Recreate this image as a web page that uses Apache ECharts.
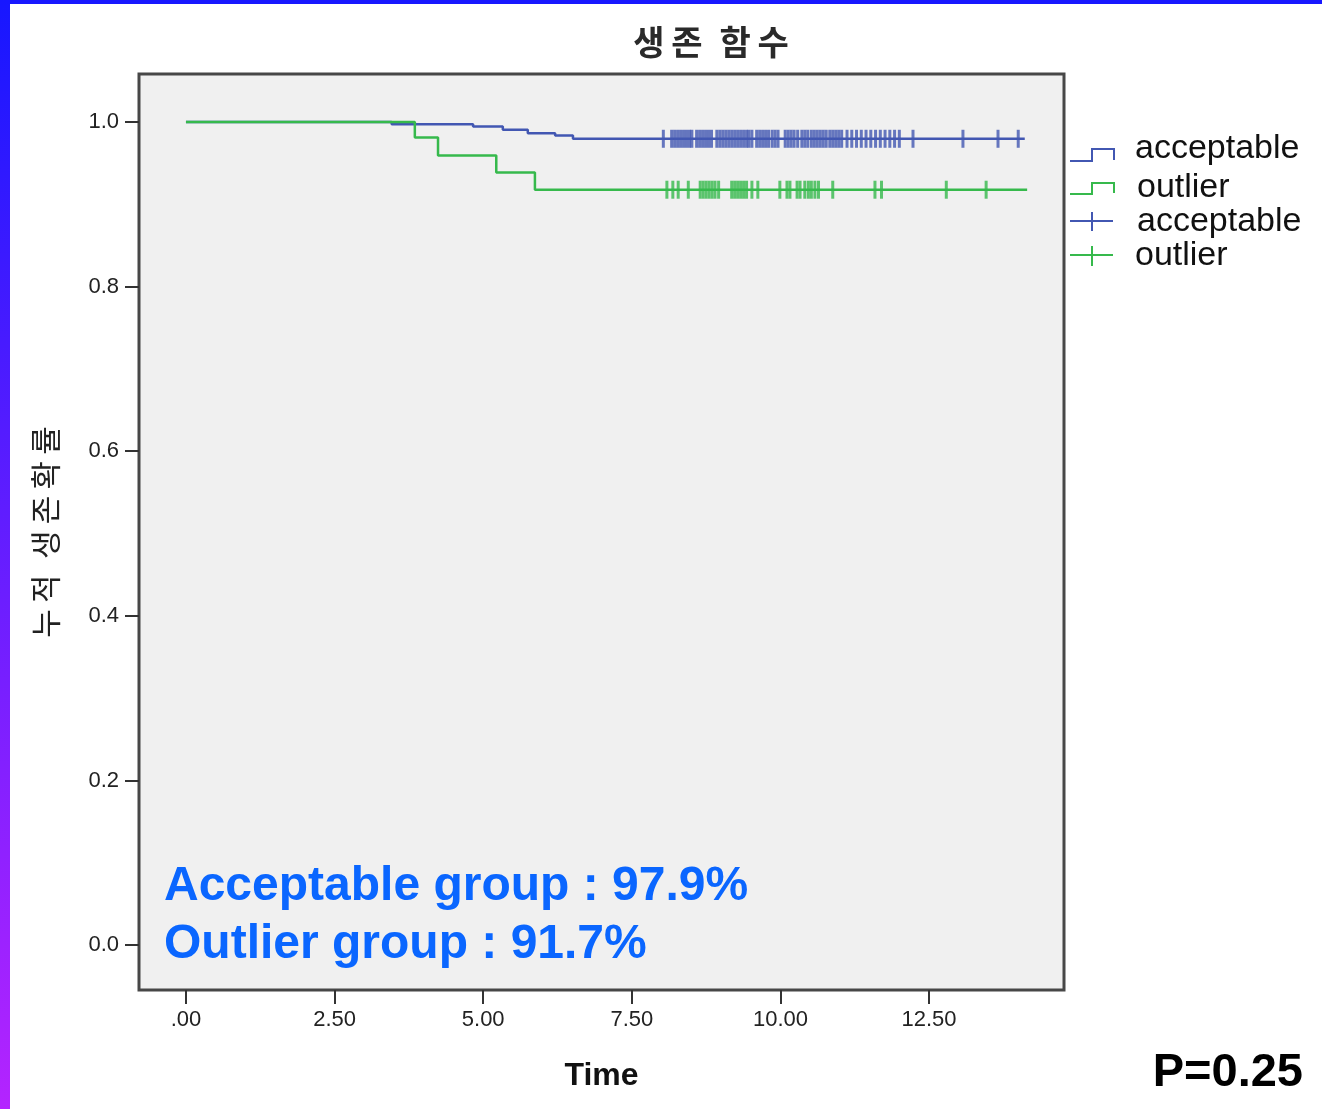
<!DOCTYPE html>
<html>
<head>
<meta charset="utf-8">
<script src="https://cdn.jsdelivr.net/npm/echarts@6/dist/echarts.min.js"></script>
<style>
html,body{margin:0;padding:0;background:#fff;}
#chart{width:1322px;height:1109px;}
</style>
</head>
<body>
<div id="chart"></div>
<script>
// ---- data ----
const timeTicks = [0, 2.5, 5, 7.5, 10, 12.5];
const survTicks = [0, 0.2, 0.4, 0.6, 0.8, 1.0];

const acceptStepTimes = [0, 3.46, 4.83, 5.33, 5.75, 6.21, 6.51, 14.11];
const acceptStepSurv  = [1.0, 0.9973, 0.9945, 0.9905, 0.9864, 0.9836, 0.9796, 0.9796];

const outlierStepTimes = [0, 3.85, 4.24, 5.22, 5.87, 14.15];
const outlierStepSurv  = [1.0, 0.9812, 0.9593, 0.9387, 0.9177, 0.9177];

const acceptCensor = [
  8.03, 8.17, 8.22, 8.27, 8.32, 8.37, 8.42, 8.47, 8.51,
  8.59, 8.64, 8.69, 8.74, 8.79, 8.84,
  8.93, 8.98, 9.03, 9.08, 9.13, 9.18, 9.23, 9.28, 9.33, 9.38, 9.43, 9.47, 9.52,
  9.60, 9.65, 9.70, 9.75, 9.80, 9.86, 9.91, 9.96,
  10.08, 10.13, 10.18, 10.23, 10.29,
  10.36, 10.41, 10.46, 10.52, 10.57, 10.62, 10.67,
  10.72, 10.77, 10.83, 10.88, 10.93, 10.98, 11.03,
  11.12, 11.20, 11.28, 11.36, 11.44, 11.52, 11.60, 11.68, 11.76, 11.84, 11.92, 12.00,
  12.23, 13.07, 13.66, 14.00
];
const outlierCensor = [
  8.09, 8.19, 8.28, 8.45,
  8.65, 8.70, 8.75, 8.80, 8.85, 8.90, 8.96,
  9.18, 9.23, 9.28, 9.33, 9.38, 9.43,
  9.52, 9.62, 9.99, 10.11, 10.16, 10.28, 10.33,
  10.41, 10.47, 10.52, 10.58, 10.64,
  10.88, 11.59, 11.70, 12.79, 13.46
];

const groupNames = ['acceptable', 'outlier'];
const summaryLines = ['Acceptable group : 97.9%', 'Outlier group : 91.7%'];
const pText = 'P=0.25';
const titleText = '생\u2009존\u2002함\u2009수';
const yTitle = '누\u2009적\u2002생\u2009존\u2009확\u2009률';
const xTitle = 'Time';

// ---- helpers ----
function zip(a, b) { return a.map((v, i) => [v, b[i]]); }
function survAt(times, surv, t) {
  let s = surv[0];
  for (let i = 0; i < times.length; i++) { if (times[i] <= t) s = surv[i]; }
  return s;
}

const BLUE = '#4257b2';
const GREEN = '#36b94c';

const chart = echarts.init(document.getElementById('chart'), null, {renderer: 'canvas'});

const option = {
  backgroundColor: '#ffffff',
  animation: false,
  grid: {
    left: 139, top: 74, right: 258, bottom: 119,
    show: true, backgroundColor: '#f0f0f0', borderColor: '#474747', borderWidth: 3
  },
  xAxis: {
    type: 'value', min: -0.79, max: 14.77,
    name: xTitle, nameLocation: 'middle', nameGap: 70,
    nameTextStyle: {fontFamily: 'Liberation Sans', fontWeight: 'bold', fontSize: 32, color: '#111'},
    axisLine: {show: false, onZero: false},
    splitLine: {show: false},
    axisTick: {show: true, inside: false, length: 14, customValues: timeTicks, lineStyle: {color: '#333', width: 2}},
    axisLabel: {
      customValues: timeTicks, margin: 19, fontFamily: 'Liberation Sans', fontSize: 22, color: '#222',
      formatter: v => { const s = v.toFixed(2); return s.startsWith('0.') ? s.slice(1) : s; }
    }
  },
  yAxis: {
    type: 'value', min: -0.0546, max: 1.0583,
    name: yTitle, nameLocation: 'middle', nameGap: 78, nameRotate: 90,
    nameTextStyle: {fontFamily: 'Noto Sans CJK KR', fontSize: 31, color: '#222'},
    axisLine: {show: false, onZero: false},
    splitLine: {show: false},
    axisTick: {show: true, inside: false, length: 14, customValues: survTicks, lineStyle: {color: '#333', width: 2}},
    axisLabel: {
      customValues: survTicks, margin: 20, fontFamily: 'Liberation Sans', fontSize: 22, color: '#222',
      formatter: v => v.toFixed(1)
    }
  },
  series: [
    {
      name: groupNames[0], type: 'line', step: 'end', symbol: 'none',
      data: zip(acceptStepTimes, acceptStepSurv),
      lineStyle: {color: BLUE, width: 2.5}, z: 2
    },
    {
      name: groupNames[1], type: 'line', step: 'end', symbol: 'none',
      data: zip(outlierStepTimes, outlierStepSurv),
      lineStyle: {color: GREEN, width: 2.5}, z: 3
    },
    {
      name: groupNames[0] + ' censored', type: 'scatter', symbol: 'rect', symbolSize: [3, 18],
      data: acceptCensor.map(t => [t, survAt(acceptStepTimes, acceptStepSurv, t)]),
      itemStyle: {color: BLUE}, z: 4
    },
    {
      name: groupNames[1] + ' censored', type: 'scatter', symbol: 'rect', symbolSize: [3, 18],
      data: outlierCensor.map(t => [t, survAt(outlierStepTimes, outlierStepSurv, t)]),
      itemStyle: {color: GREEN}, z: 4
    }
  ],
  graphic: [
    // frame bars
    {type: 'rect', left: 0, top: 0, shape: {width: 1322, height: 4}, style: {fill: '#1717ff'}, z: 100},
    {type: 'rect', left: 0, top: 0, shape: {width: 10, height: 1109},
      style: {fill: new echarts.graphic.LinearGradient(0, 0, 0, 1, [
        {offset: 0, color: '#1717ff'}, {offset: 1, color: '#b424ff'}])}, z: 100},
    // title
    {type: 'text', x: 711, y: 42, style: {text: titleText, fontFamily: 'Noto Sans CJK KR', fontSize: 34,
      fontWeight: 'bold', fill: '#2a2a2a', align: 'center', verticalAlign: 'middle'}},
    // summary
    {type: 'text', x: 164, y: 887, style: {text: summaryLines[0], fontFamily: 'Liberation Sans', fontWeight: 'bold',
      fontSize: 48, fill: '#0a66ff', verticalAlign: 'middle'}, z: 50},
    {type: 'text', x: 164, y: 945, style: {text: summaryLines[1], fontFamily: 'Liberation Sans', fontWeight: 'bold',
      fontSize: 48, fill: '#0a66ff', verticalAlign: 'middle'}, z: 50},
    // p value
    {type: 'text', x: 1303, y: 1073, style: {text: pText, fontFamily: 'Liberation Sans', fontWeight: 'bold',
      fontSize: 47, fill: '#000', align: 'right', verticalAlign: 'middle'}},
    // legend
    {type: 'polyline', shape: {points: [[1070,161],[1092,161],[1092,149],[1114,149],[1114,160]]},
      style: {stroke: BLUE, lineWidth: 2, fill: null}},
    {type: 'text', x: 1135, y: 149, style: {text: groupNames[0], fontFamily: 'Liberation Sans', fontSize: 34,
      fill: '#111', verticalAlign: 'middle'}},
    {type: 'polyline', shape: {points: [[1070,194],[1092,194],[1092,183],[1114,183],[1114,193]]},
      style: {stroke: GREEN, lineWidth: 2, fill: null}},
    {type: 'text', x: 1137, y: 188, style: {text: groupNames[1], fontFamily: 'Liberation Sans', fontSize: 34,
      fill: '#111', verticalAlign: 'middle'}},
    {type: 'line', shape: {x1: 1070, y1: 221, x2: 1113, y2: 221}, style: {stroke: BLUE, lineWidth: 2}},
    {type: 'line', shape: {x1: 1092, y1: 212, x2: 1092, y2: 231}, style: {stroke: BLUE, lineWidth: 2}},
    {type: 'text', x: 1137, y: 222, style: {text: groupNames[0], fontFamily: 'Liberation Sans', fontSize: 34,
      fill: '#111', verticalAlign: 'middle'}},
    {type: 'line', shape: {x1: 1070, y1: 255, x2: 1113, y2: 255}, style: {stroke: GREEN, lineWidth: 2}},
    {type: 'line', shape: {x1: 1092, y1: 246, x2: 1092, y2: 266}, style: {stroke: GREEN, lineWidth: 2}},
    {type: 'text', x: 1135, y: 256, style: {text: groupNames[1], fontFamily: 'Liberation Sans', fontSize: 34,
      fill: '#111', verticalAlign: 'middle'}}
  ]
};
chart.setOption(option);
</script>
</body>
</html>
